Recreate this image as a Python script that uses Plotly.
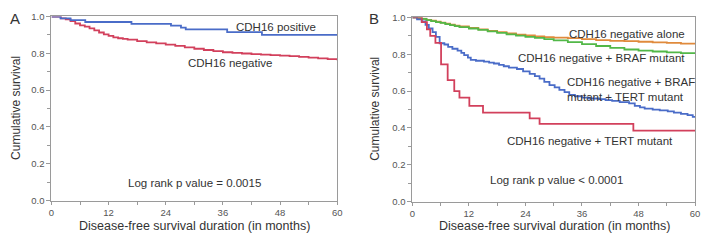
import plotly.graph_objects as go

# ---------------- Data ----------------
# Panel A
a_pos_t = [0, 1.9, 4.0, 7.1, 16.8, 25.1, 27.2, 28.2, 36.9, 44.2, 60]
a_pos_s = [1.0, 0.99, 0.98, 0.97, 0.96, 0.95, 0.94, 0.93, 0.915, 0.90, 0.90]

a_neg_t = [0, 2, 3, 4, 5, 6, 7, 8, 9, 10, 11, 12, 13, 14, 15, 16, 18, 20, 22, 24, 26, 28, 30,
           32, 34, 36, 38, 40, 42, 44, 46, 48, 50, 52, 54, 56, 58, 60]
a_neg_s = [1.0, 0.99, 0.985, 0.975, 0.962, 0.952, 0.945, 0.935, 0.925, 0.913, 0.903, 0.895, 0.887,
           0.882, 0.878, 0.874, 0.866, 0.86, 0.854, 0.847, 0.84, 0.832, 0.825, 0.818, 0.812, 0.806,
           0.802, 0.799, 0.796, 0.793, 0.79, 0.788, 0.785, 0.781, 0.777, 0.773, 0.768, 0.763]

# Panel B
b_alone_t = [0, 1, 2, 3, 4, 5, 6, 7, 8, 9, 10, 12, 14, 16, 18, 20, 22, 24, 26, 28, 30, 33, 36,
             39, 42, 45, 48, 51, 54, 57, 60]
b_alone_s = [1.0, 0.997, 0.993, 0.987, 0.982, 0.977, 0.972, 0.966, 0.961, 0.956, 0.951, 0.943,
             0.935, 0.927, 0.92, 0.913, 0.907, 0.902, 0.897, 0.893, 0.89, 0.888, 0.882, 0.877,
             0.873, 0.871, 0.868, 0.865, 0.862, 0.858, 0.853]

b_braf_t = [0, 1, 2, 3, 4, 5, 6, 7, 8, 9, 10, 12, 14, 16, 18, 20, 22, 24, 26, 28, 30, 33, 36,
            39, 42, 45, 48, 51, 54, 57, 60]
b_braf_s = [1.0, 0.996, 0.992, 0.986, 0.98, 0.975, 0.97, 0.964, 0.958, 0.953, 0.948, 0.94,
            0.932, 0.924, 0.916, 0.908, 0.901, 0.895, 0.889, 0.882, 0.875, 0.866, 0.855, 0.845,
            0.835, 0.826, 0.82, 0.815, 0.81, 0.806, 0.802]

b_braf_tert_t = [0, 1.0, 2.0, 2.8, 3.5, 4.3, 5.0, 5.8, 6.8, 7.6, 8.5, 9.6, 10.4, 11.0, 11.8, 12.4,
                 13.5, 15.2, 16.3, 17.3, 18.4, 19.4, 20.5, 22.2, 23.5, 24.9, 26.0, 27.0, 28.0,
                 29.1, 30.2, 31.2, 32.3, 33.3, 34.5, 36.0, 37.5, 39.6, 41.0, 42.4, 44.0, 46.0,
                 47.2, 48.3, 49.3, 51.0, 52.5, 54.2, 55.5, 57.0, 58.4, 59.5, 60]
b_braf_tert_s = [1.0, 0.99, 0.978, 0.96, 0.94, 0.92, 0.895, 0.86, 0.853, 0.84, 0.83, 0.82, 0.808,
                 0.795, 0.782, 0.77, 0.765, 0.76, 0.755, 0.75, 0.742, 0.735, 0.728, 0.72, 0.707,
                 0.694, 0.681, 0.668, 0.65, 0.633, 0.62, 0.607, 0.594, 0.58, 0.572, 0.565, 0.56,
                 0.556, 0.551, 0.547, 0.54, 0.533, 0.52, 0.512, 0.505, 0.5, 0.495, 0.49, 0.483,
                 0.476, 0.47, 0.46, 0.46]

b_tert_t = [0, 2.0, 3.1, 3.8, 4.9, 6.1, 7.5, 8.9, 10.0, 12.1, 15.0, 24.9, 27.0, 46.9, 60]
b_tert_s = [1.0, 0.975, 0.935, 0.90, 0.862, 0.745, 0.66, 0.60, 0.565, 0.52, 0.483, 0.452, 0.422,
            0.385, 0.385]

x_ticks = [0, 12, 24, 36, 48, 60]
y_ticks = [0.0, 0.2, 0.4, 0.6, 0.8, 1.0]

# ---------------- Styling ----------------
BLUE = "#4a6cc8"
RED = "#d2405c"
ORANGE = "#e08a3c"
GREEN = "#52b848"
TXT = "#333333"
AX = "#9a9a9a"
FONT = "Liberation Sans"

fig = go.Figure()

def add(t, s, color, xa, ya):
    fig.add_trace(go.Scatter(x=t, y=s, mode="lines", line=dict(color=color, width=1.8, shape="hv"),
                             xaxis=xa, yaxis=ya, showlegend=False, hoverinfo="skip"))

add(a_neg_t, a_neg_s, RED, "x", "y")
add(a_pos_t, a_pos_s, BLUE, "x", "y")
add(b_alone_t, b_alone_s, ORANGE, "x2", "y2")
add(b_braf_t, b_braf_s, GREEN, "x2", "y2")
add(b_braf_tert_t, b_braf_tert_s, BLUE, "x2", "y2")
add(b_tert_t, b_tert_s, RED, "x2", "y2")

def xaxis(domain, anchor):
    return dict(domain=domain, anchor=anchor, range=[0, 60], tickvals=x_ticks,
                ticktext=[str(v) for v in x_ticks], showgrid=False, zeroline=False,
                showline=True, linecolor=AX, linewidth=1, mirror=True, ticks="outside",
                ticklen=3, tickcolor=AX, tickfont=dict(family=FONT, size=9.5, color="#555"),
                ticklabeloverflow="allow",
                minor=dict(ticks="outside", dtick=6, ticklen=3, tickcolor=AX, tick0=0))

def yaxis(domain, anchor):
    return dict(domain=domain, anchor=anchor, range=[0, 1.0], tickvals=y_ticks,
                ticktext=[f"{v:.1f}" for v in y_ticks], showgrid=False, zeroline=False,
                showline=True, linecolor=AX, linewidth=1, mirror=True, ticks="outside",
                ticklen=4, tickcolor=AX, tickfont=dict(family=FONT, size=9.5, color="#555"),
                ticklabeloverflow="allow",
                minor=dict(ticks="outside", dtick=0.1, ticklen=3, tickcolor=AX, tick0=0))

fig.update_layout(
    width=708, height=240, margin=dict(l=0, r=0, t=0, b=0),
    paper_bgcolor="white", plot_bgcolor="white",
    xaxis=xaxis([49 / 708, 338 / 708], "y"),
    yaxis=yaxis([1 - 204 / 240, 1 - 11 / 240], "x"),
    xaxis2=xaxis([414 / 708, 700 / 708], "y2"),
    yaxis2=yaxis([1 - 205 / 240, 1 - 12 / 240], "x2"),
)

def ann(text, x, y, xref, yref, size=11.5, xanchor="center", align="center", angle=0):
    fig.add_annotation(text=text, x=x, y=y, xref=xref, yref=yref, showarrow=False,
                       xanchor=xanchor, yanchor="middle", align=align, textangle=angle,
                       font=dict(family=FONT, size=size, color=TXT))

# Panel A labels
ann("CDH16 positive", 47.2, 0.943, "x", "y")
ann("CDH16 negative", 37.4, 0.746, "x", "y")
ann("Log rank p value = 0.0015", 30.1, 0.098, "x", "y")
# Panel B labels
ann("CDH16 negative alone", 45.5, 0.909, "x2", "y2")
ann("CDH16 negative + BRAF mutant", 40.1, 0.78, "x2", "y2")
ann("CDH16 negative + BRAF<br>mutant + TERT mutant", 32.3, 0.607, "x2", "y2",
    xanchor="left", align="left")
ann("CDH16 negative + TERT mutant", 37.8, 0.33, "x2", "y2")
ann("Log rank p value < 0.0001", 30.5, 0.117, "x2", "y2")

# Axis titles
ann("Disease-free survival duration (in months)", 193.5 / 708, 1 - 231 / 240, "paper", "paper", size=12.5)
ann("Disease-free survival duration (in months)", 557.5 / 708, 1 - 231 / 240, "paper", "paper", size=12.5)
ann("Cumulative survival", 13 / 708, 1 - 107 / 240, "paper", "paper", size=12, angle=-90)
ann("Cumulative survival", 376 / 708, 1 - 108 / 240, "paper", "paper", size=12, angle=-90)

# Panel letters
ann("A", 12 / 708, 1 - 13 / 240, "paper", "paper", size=15)
ann("B", 375 / 708, 1 - 13 / 240, "paper", "paper", size=15)

fig.write_html("out.html", config={"displayModeBar": False},
               post_script="document.body.style.margin='0';document.body.style.overflow='hidden';")
